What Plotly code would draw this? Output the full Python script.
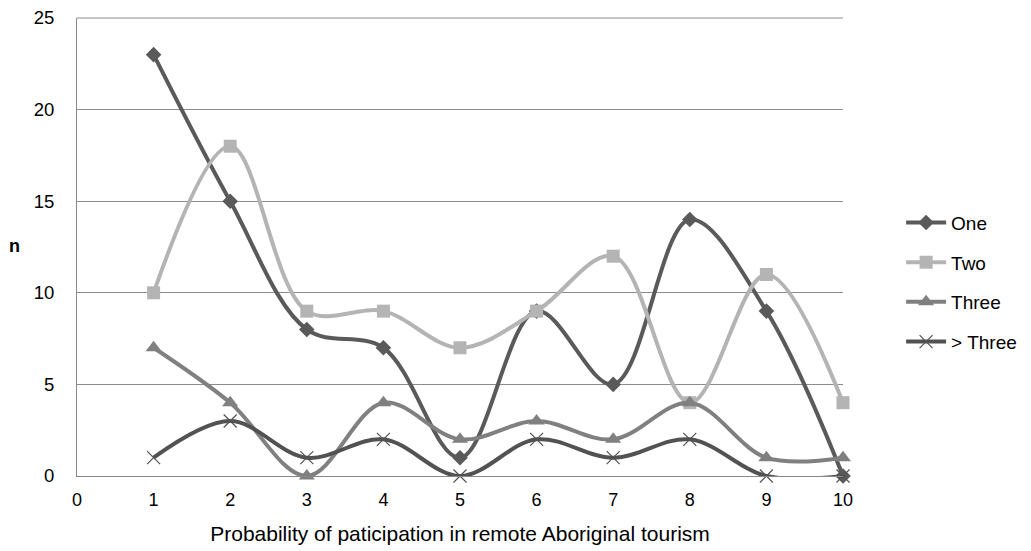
import plotly.graph_objects as go

x_vals = [1, 2, 3, 4, 5, 6, 7, 8, 9, 10]
one = [23, 15, 8, 7, 1, 9, 5, 14, 9, 0]
two = [10, 18, 9, 9, 7, 9, 12, 4, 11, 4]
three = [7, 4, 0, 4, 2, 3, 2, 4, 1, 1]
more_three = [1, 3, 1, 2, 0, 2, 1, 2, 0, 0]
series_names = ["One", "Two", "Three", "> Three"]

styles = [
    dict(color="#5a5a5a", symbol="diamond", size=12),
    dict(color="#b4b4b4", symbol="square", size=13),
    dict(color="#808080", symbol="triangle-up", size=14),
    dict(color="#525252", symbol="x-thin-open", size=13),
]

fig = go.Figure()
for name, ys, st in zip(series_names, [one, two, three, more_three], styles):
    marker = dict(symbol=st["symbol"], size=st["size"], color=st["color"])
    if st["symbol"] == "x-thin-open":
        marker["line"] = dict(color="#333333", width=1.2)
    fig.add_trace(go.Scatter(
        x=x_vals, y=ys, name=name, mode="lines+markers", legendgroup=name,
        line=dict(color=st["color"], width=4, shape="spline", smoothing=1.0),
        marker=marker, cliponaxis=False,
    ))

fig.update_layout(
    width=1031, height=551,
    margin=dict(l=77, r=188, t=18, b=75, autoexpand=False),
    paper_bgcolor="white", plot_bgcolor="white",
    font=dict(family="Liberation Sans, Arial, sans-serif", size=18, color="#000000"),
    showlegend=True,
    legend=dict(xref="container", yref="container", x=0.874, y=0.488,
                xanchor="left", yanchor="middle",
                font=dict(size=19), traceorder="grouped", tracegroupgap=12,
                itemwidth=40, bgcolor="rgba(0,0,0,0)"),
    xaxis=dict(range=[0, 10], tickmode="array", tickvals=list(range(0, 11)),
               showgrid=False, showline=True, linecolor="#888888", linewidth=1,
               ticks="", zeroline=False, automargin=False, ticklabelstandoff=7,
               tickfont=dict(size=18),
               title=dict(text="Probability of paticipation in remote Aboriginal tourism",
                          font=dict(size=21), standoff=17)),
    yaxis=dict(range=[0, 25], tickmode="array", tickvals=[0, 5, 10, 15, 20, 25],
               showgrid=True, gridcolor="#8c8c8c", gridwidth=1,
               showline=True, linecolor="#888888", linewidth=1,
               ticks="", zeroline=False, ticklabelstandoff=18, automargin=False,
               tickfont=dict(size=18.5)),
    annotations=[dict(text="<b>n</b>", xref="paper", yref="paper",
                      x=-0.081, y=0.502, xanchor="center", yanchor="middle",
                      showarrow=False, font=dict(size=18))],
)
fig.add_shape(type="line", xref="paper", yref="paper", x0=0, x1=1, y0=1, y1=1,
              line=dict(color="#8c8c8c", width=1))

fig.write_html("out.html")
